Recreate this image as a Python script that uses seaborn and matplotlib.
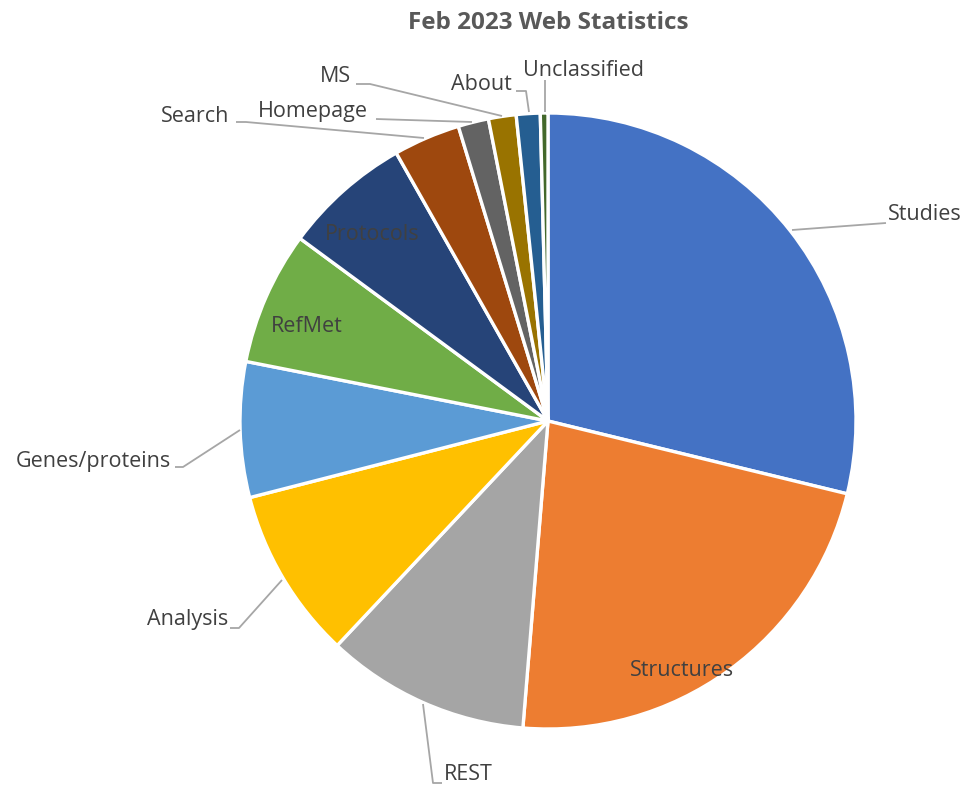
import matplotlib
matplotlib.use("Agg")
import matplotlib.pyplot as plt
import seaborn as sns

sns.set_theme(style="white")
plt.rcParams['font.family'] = ['Open Sans', 'DejaVu Sans']

categories = ["Studies", "Structures", "REST", "Analysis", "Genes/proteins", "RefMet",
              "Protocols", "Search", "Homepage", "MS", "About", "Unclassified"]
values = [28.8, 22.5, 10.7, 9.0, 7.1, 7.0, 6.7, 3.5, 1.6, 1.45, 1.25, 0.4]
colors = ["#4472C4", "#ED7D31", "#A5A5A5", "#FFC000", "#5B9BD5", "#70AD47",
          "#264478", "#9E480E", "#636363", "#997300", "#255E91", "#43682B"]

W, H = 964, 795
fig = plt.figure(figsize=(W / 100, H / 100), dpi=100)
ax = fig.add_axes([0, 0, 1, 1])

cx, cy, r = 548, H - 421, 308
ax.pie(values, colors=colors, startangle=90, counterclock=False, center=(cx, cy),
       radius=r, wedgeprops=dict(edgecolor='white', linewidth=2.4), frame=True)
ax.set_xlim(0, W)
ax.set_ylim(0, H)
ax.set_aspect('equal')
ax.axis('off')

tcol = "#404040"
lcol = "#A6A6A6"
fs = 15.5

def Y(y):
    return H - y

# label text positions (pixel coords from top), alignment, leader polyline
labels = {
    "Studies": ((888, 215), 'left', [(792, 230), (886, 223)]),
    "Structures": ((682, 670), 'center', None),
    "REST": ((444, 775), 'left', [(423, 704), (433, 783), (442, 783)]),
    "Analysis": ((228, 620), 'right', [(282, 580), (239, 628), (230, 628)]),
    "Genes/proteins": ((171, 462), 'right', [(240, 430), (183, 467), (175, 467)]),
    "RefMet": ((307, 326), 'center', None),
    "Protocols": ((372, 235), 'center', None),
    "Search": ((229, 116), 'right', [(424, 138), (246, 122), (236, 122)]),
    "Homepage": ((368, 111), 'right', [(472, 122), (376, 119)]),
    "MS": ((351, 77), 'right', [(502, 116), (370, 84), (356, 84)]),
    "About": ((512, 84), 'right', [(529, 112), (526, 91), (516, 91)]),
    "Unclassified": ((523, 71), 'left', [(545, 112), (545, 80)]),
}

for name, ((x, y), ha, line) in labels.items():
    ax.text(x, Y(y), name, ha=ha, va='center', fontsize=fs, color=tcol)
    if line:
        xs = [p[0] for p in line]
        ys = [Y(p[1]) for p in line]
        ax.plot(xs, ys, color=lcol, lw=1.3, solid_capstyle='butt')

ax.text(548, Y(23), "Feb 2023 Web Statistics", ha='center', va='center',
        fontsize=17.5, fontweight='bold', color="#595959")

fig.savefig("out.png", dpi=100)
